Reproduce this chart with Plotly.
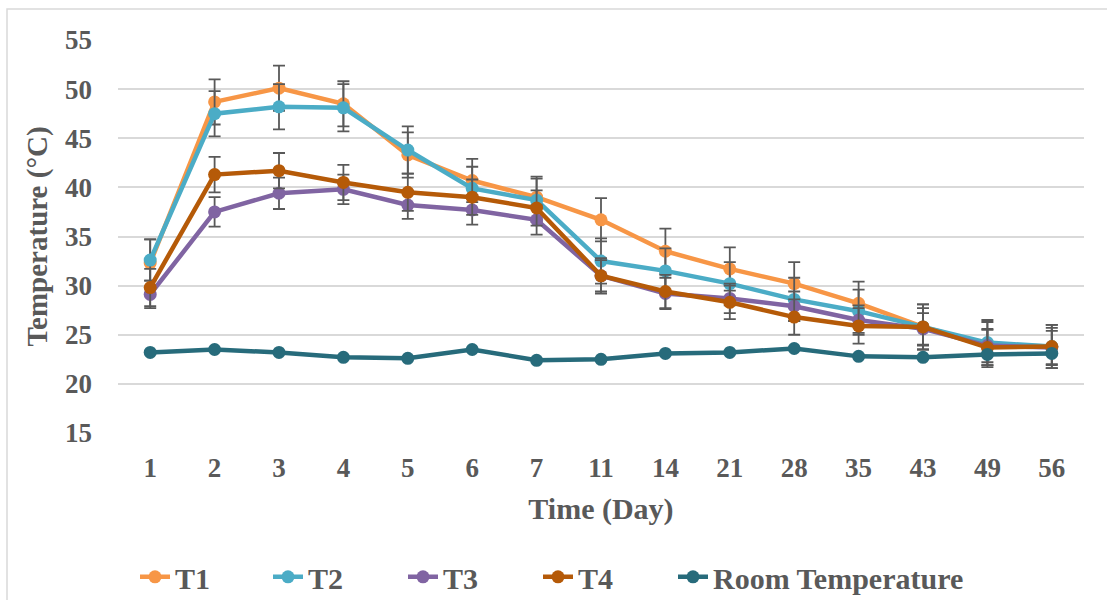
import plotly.graph_objects as go

days = ["1", "2", "3", "4", "5", "6", "7", "11", "14", "21", "28", "35", "43", "49", "56"]

t1 = [32.3, 48.7, 50.1, 48.5, 43.3, 40.7, 39.0, 36.7, 33.5, 31.7, 30.2, 28.2, 25.8, 24.0, 23.8]
t2 = [32.6, 47.5, 48.2, 48.1, 43.8, 39.9, 38.7, 32.5, 31.5, 30.2, 28.6, 27.4, 25.8, 24.2, 23.8]
t3 = [29.1, 37.5, 39.4, 39.8, 38.2, 37.7, 36.7, 31.0, 29.2, 28.7, 27.9, 26.5, 25.6, 23.9, 23.7]
t4 = [29.8, 41.3, 41.7, 40.5, 39.5, 39.0, 37.9, 31.0, 29.4, 28.3, 26.8, 25.9, 25.8, 23.7, 23.8]
room = [23.2, 23.5, 23.2, 22.7, 22.6, 23.5, 22.4, 22.5, 23.1, 23.2, 23.6, 22.8, 22.7, 23.0, 23.1]

t1_err = [2.4, 2.3, 2.3, 2.3, 2.3, 2.2, 2.1, 2.2, 2.3, 2.2, 2.2, 2.2, 2.3, 2.3, 2.2]
t2_err = [2.1, 2.3, 2.3, 2.4, 2.4, 2.2, 2.2, 2.3, 2.3, 2.2, 2.2, 2.2, 2.3, 2.3, 2.2]
t3_err = [1.4, 1.5, 1.6, 1.5, 1.4, 1.5, 1.5, 1.6, 1.6, 1.5, 1.5, 1.5, 1.6, 1.7, 1.7]
t4_err = [1.9, 1.8, 1.8, 1.8, 1.9, 1.8, 1.8, 1.8, 1.7, 1.7, 1.8, 1.8, 1.9, 1.8, 1.9]

series = [
    ("T1", t1, t1_err, "#F79646"),
    ("T2", t2, t2_err, "#4BACC6"),
    ("T3", t3, t3_err, "#8064A2"),
    ("T4", t4, t4_err, "#B55A08"),
    ("Room Temperature", room, None, "#276B7B"),
]

FONT = "Liberation Serif"
TXT = "#595959"

# legend item left edges (pixels) and plot-area geometry
legend_px = [135, 268, 403, 538, 673]
PLOT_L, PLOT_W = 118, 966

fig = go.Figure()
legend_ids = ["legend", "legend2", "legend3", "legend4", "legend5"]
for i, (name, vals, err, col) in enumerate(series):
    kw = {}
    if err is not None:
        kw["error_y"] = dict(type="data", array=err, visible=True,
                             color="#595959", thickness=1.8, width=6)
    fig.add_trace(go.Scatter(
        x=days, y=vals, name=name, mode="lines+markers",
        line=dict(color=col, width=4.5),
        marker=dict(color=col, size=13),
        legend=legend_ids[i],
        **kw))

legend_layout = {}
for i, lid in enumerate(legend_ids):
    legend_layout[lid] = dict(
        orientation="h", x=(legend_px[i] - PLOT_L) / PLOT_W, xanchor="left",
        y=-0.366, yanchor="middle",
        font=dict(family=FONT, size=30, color=TXT, weight="bold"),
        itemwidth=30, bgcolor="rgba(0,0,0,0)")

fig.update_layout(
    width=1107, height=600,
    margin=dict(l=118, r=23, t=40, b=167, autoexpand=False),
    paper_bgcolor="white", plot_bgcolor="white",
    font=dict(family=FONT, size=27, color=TXT),
    showlegend=True,
    xaxis=dict(type="category", range=[-0.5, 14.5], showgrid=False, showline=False,
               zeroline=False, ticks="", ticklabelstandoff=16,
               tickfont=dict(family=FONT, size=27, color=TXT, weight="bold"),
               title=dict(text="<b>Time (Day)</b>", standoff=15,
                          font=dict(family=FONT, size=30, color=TXT))),
    yaxis=dict(range=[15, 55], dtick=5, tick0=15, showgrid=True, gridcolor="#D9D9D9",
               gridwidth=1.5, showline=False, zeroline=False, ticks="",
               ticklabelstandoff=25,
               tickfont=dict(family=FONT, size=27, color=TXT, weight="bold"),
               title=dict(text="<b>Temperature (°C)</b>", standoff=8,
                          font=dict(family=FONT, size=29, color=TXT))),
    shapes=[dict(type="rect", xref="paper", yref="paper",
                 x0=-0.1149, x1=1.2, y0=-0.7, y1=1.079,
                 line=dict(color="#D9D9D9", width=1.5), fillcolor="rgba(0,0,0,0)",
                 layer="below")],
    **legend_layout,
)

fig.write_html("out.html")
